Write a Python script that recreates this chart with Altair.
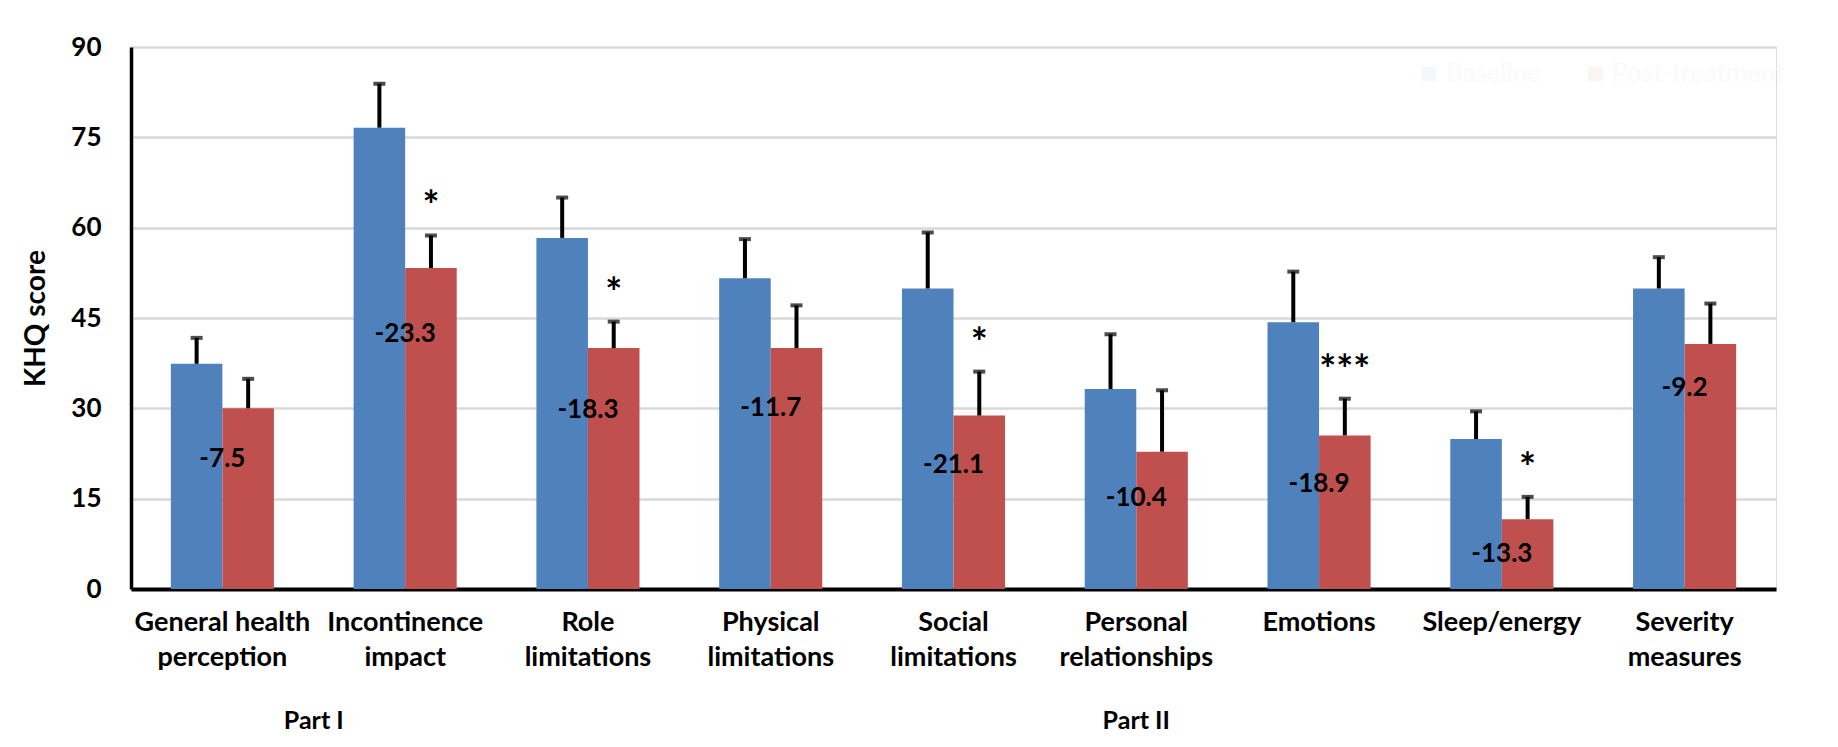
import altair as alt
import pandas as pd

categories = ["General health\nperception", "Incontinence\nimpact", "Role\nlimitations",
              "Physical\nlimitations", "Social\nlimitations", "Personal\nrelationships",
              "Emotions", "Sleep/energy", "Severity\nmeasures"]
parts = ["Part I", "Part I", "Part II", "Part II", "Part II", "Part II", "Part II", "Part II", "Part II"]
groups = ["Baseline", "Post-treatment"]
baseline = [37.4, 76.6, 58.3, 51.6, 49.9, 33.2, 44.3, 24.9, 49.9]
baseline_err = [4.3, 7.3, 6.7, 6.5, 9.3, 9.1, 8.4, 4.6, 5.2]
post = [30.0, 53.3, 40.0, 40.0, 28.8, 22.8, 25.5, 11.6, 40.7]
post_err = [4.9, 5.4, 4.4, 7.1, 7.3, 10.2, 6.1, 3.7, 6.7]
change = ["-7.5", "-23.3", "-18.3", "-11.7", "-21.1", "-10.4", "-18.9", "-13.3", "-9.2"]
change_at = [21.6, 42.3, 29.8, 30.0, 20.6, 15.1, 17.5, 5.8, 33.3]
signif = ["", "*", "*", "", "*", "", "***", "*", ""]
colors = ["#4F81BD", "#C0504D"]

rows = []
for i, c in enumerate(categories):
    rows.append({"cat": c, "group": groups[0], "value": baseline[i],
                 "hi": baseline[i] + baseline_err[i], "sig": ""})
    rows.append({"cat": c, "group": groups[1], "value": post[i],
                 "hi": post[i] + post_err[i], "sig": signif[i]})
df = pd.DataFrame(rows)
lab = pd.DataFrame({"cat": categories, "change": change, "at": change_at})

pdf = pd.DataFrame({"part": parts, "idx": list(range(len(parts)))})
pdf["pos"] = pdf["idx"] + 0.5
pdf = pdf.groupby("part", as_index=False)["pos"].mean()

FONT = "Lato"
W, H = 1645, 542

xenc = alt.X("cat:N", sort=categories,
             scale=alt.Scale(paddingInner=0.436, paddingOuter=0.218),
             axis=alt.Axis(title=None, labelAngle=0, labelExpr="split(datum.label, '\\n')",
                           labelFontSize=27, labelFont=FONT, labelFontWeight="bold",
                           labelColor="black", labelLineHeight=35, labelPadding=20,
                           ticks=False, domainColor="black", domainWidth=4,
                           labelBaseline="top"))
xoff = alt.XOffset("group:N", sort=groups)

bars = alt.Chart(df).mark_bar().encode(
    x=xenc,
    xOffset=xoff,
    y=alt.Y("value:Q", scale=alt.Scale(domain=[0, 90]),
            axis=alt.Axis(title="KHQ score", values=[0, 15, 30, 45, 60, 75, 90],
                          titleFontSize=28, titleFont=FONT, titleFontWeight="bold",
                          titleColor="black", titlePadding=20,
                          labelFontSize=26, labelFont=FONT, labelFontWeight="bold",
                          labelColor="black", labelPadding=30, ticks=False,
                          domainColor="black", domainWidth=3.5,
                          grid=True, gridColor="#D9D9D9", gridWidth=2.5)),
    color=alt.Color("group:N", sort=groups,
                    scale=alt.Scale(domain=groups, range=colors),
                    legend=alt.Legend(title=None, orient="none", direction="horizontal",
                                      legendX=1285, legendY=14, labelFontSize=26,
                                      labelFont=FONT, labelColor="#FAFAFA", labelLimit=0,
                                      symbolType="square", symbolSize=220,
                                      symbolOpacity=0.06, columnPadding=40)),
)

stems = alt.Chart(df).mark_rule(color="black", strokeWidth=4).encode(
    x=alt.X("cat:N", sort=categories), xOffset=xoff,
    y="value:Q", y2="hi:Q")

caps = alt.Chart(df).mark_tick(color="black", size=12, thickness=4).encode(
    x=alt.X("cat:N", sort=categories), xOffset=xoff, y="hi:Q")

stars = alt.Chart(df).mark_text(fontSize=40, font=FONT, fontWeight="bold",
                                color="black", baseline="alphabetic", dy=-15).encode(
    x=alt.X("cat:N", sort=categories), xOffset=xoff, y="hi:Q", text="sig:N")

changes = alt.Chart(lab).mark_text(fontSize=26, font=FONT, fontWeight="bold",
                                   color="black", baseline="middle").encode(
    x=alt.X("cat:N", sort=categories), y="at:Q", text="change:N")

inner = alt.layer(bars, stems, caps, stars, changes)

partlab = alt.Chart(pdf).mark_text(fontSize=25, font=FONT, fontWeight="bold",
                                   color="black", baseline="middle").encode(
    x=alt.X("pos:Q", scale=alt.Scale(domain=[0, len(categories)]), axis=None),
    y=alt.value(H + 132),
    text="part:N")

chart = alt.layer(inner, partlab).resolve_scale(x="independent").properties(
    width=W, height=H,
    autosize=alt.AutoSizeParams(type="none"),
    padding={"left": 123, "top": 39, "right": 40, "bottom": 160},
).configure_view(stroke=None).configure(font=FONT, background="white")

chart.save("out.html", embed_options={"renderer": "svg", "actions": False})
